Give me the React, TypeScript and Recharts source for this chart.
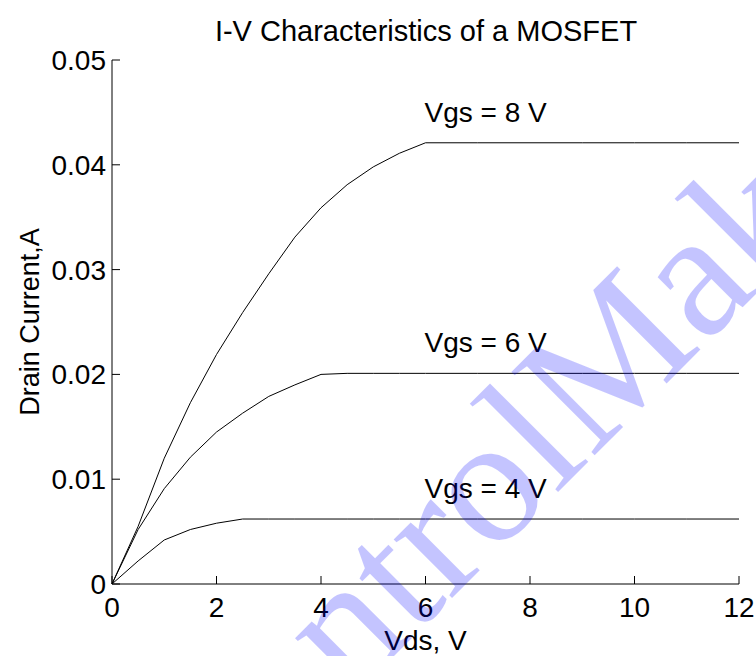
import { LineChart, Line, XAxis, YAxis, ReferenceDot } from 'recharts';

// drain-source voltage samples (V)
const vds = [0, 0.5, 1, 1.5, 2, 2.5, 3, 3.5, 4, 4.5, 5, 5.5, 6, 7, 8, 9, 10, 11, 12];

// drain current (A)
const idVgs8 = [0, 0.0055, 0.012, 0.0173, 0.0219, 0.0259, 0.0296, 0.0331, 0.0359, 0.0381, 0.0398, 0.0411, 0.0421, 0.0421, 0.0421, 0.0421, 0.0421, 0.0421, 0.0421];
const idVgs6 = [0, 0.0052, 0.0091, 0.0121, 0.0145, 0.0163, 0.0179, 0.019, 0.02, 0.0201, 0.0201, 0.0201, 0.0201, 0.0201, 0.0201, 0.0201, 0.0201, 0.0201, 0.0201];
const idVgs4 = [0, 0.0022, 0.0042, 0.0052, 0.0058, 0.0062, 0.0062, 0.0062, 0.0062, 0.0062, 0.0062, 0.0062, 0.0062, 0.0062, 0.0062, 0.0062, 0.0062, 0.0062, 0.0062];

const xTicks = [0, 2, 4, 6, 8, 10, 12];
const yTicks = [0, 0.01, 0.02, 0.03, 0.04, 0.05];

const data = vds.map((v, i) => ({ vds: v, vgs8: idVgs8[i], vgs6: idVgs6[i], vgs4: idVgs4[i] }));

const FONT = 'Arial, "Liberation Sans", Helvetica, sans-serif';
const noteStyle = { fontSize: 28, fill: '#000', fontFamily: FONT };
const TICK = 8;

// matlab style: tick marks point into the plot box
function BottomTick(props: any) {
  const { x, y, payload } = props;
  return (
    <g>
      <line x1={x} y1={y} x2={x} y2={y - TICK} stroke="#000" />
      <text x={x} y={y + 33} textAnchor="middle" fontSize={28} fontFamily={FONT} fill="#000">
        {payload.value}
      </text>
    </g>
  );
}

function LeftTick(props: any) {
  const { x, y, payload } = props;
  return (
    <g>
      <line x1={x} y1={y} x2={x + TICK} y2={y} stroke="#000" />
      <text x={x - 6} y={y + 10} textAnchor="end" fontSize={28} fontFamily={FONT} fill="#000">
        {payload.value}
      </text>
    </g>
  );
}

function TopTick(props: any) {
  const { x, y } = props;
  return <line x1={x} y1={y} x2={x} y2={y + TICK} stroke="#000" />;
}

function RightTick(props: any) {
  const { x, y } = props;
  return <line x1={x} y1={y} x2={x - TICK} y2={y} stroke="#000" />;
}

export default function App() {
  return (
    <div style={{ position: 'absolute', left: 0, top: 0, width: 756, height: 656, background: '#fff' }}>
      <LineChart width={756} height={656} data={data} margin={{ top: 60, right: 17, bottom: 0, left: 0 }}>
        <XAxis
          dataKey="vds"
          type="number"
          domain={[0, 12]}
          ticks={xTicks}
          height={72}
          tickSize={0}
          tickMargin={0}
          tickLine={false}
          stroke="#000"
          tick={<BottomTick />}
          label={{ value: 'Vds, V', position: 'insideBottom', offset: 6, style: { fontSize: 28, fill: '#000', fontFamily: FONT } }}
        />
        <XAxis xAxisId="top" dataKey="vds" orientation="top" type="number" domain={[0, 12]} ticks={xTicks} height={0} tickSize={0} tickMargin={0} tickLine={false} tick={<TopTick />} stroke="#000" />
        <YAxis
          type="number"
          domain={[0, 0.05]}
          ticks={yTicks}
          width={112}
          tickSize={0}
          tickMargin={0}
          tickLine={false}
          stroke="#000"
          tick={<LeftTick />}
          label={{ value: 'Drain Current,A', angle: -90, position: 'insideLeft', offset: 29, style: { textAnchor: 'middle', fontSize: 27, fill: '#000', fontFamily: FONT } }}
        />
        <YAxis yAxisId="right" orientation="right" type="number" domain={[0, 0.05]} ticks={yTicks} width={0} tickSize={0} tickMargin={0} tickLine={false} tick={<RightTick />} stroke="#000" />
        <Line type="linear" dataKey="vgs8" stroke="#000" strokeWidth={1} dot={false} isAnimationActive={false} />
        <Line type="linear" dataKey="vgs6" stroke="#000" strokeWidth={1} dot={false} isAnimationActive={false} />
        <Line type="linear" dataKey="vgs4" stroke="#000" strokeWidth={1} dot={false} isAnimationActive={false} />
        {/* invisible series so the box axes (top/right) get drawn */}
        <Line xAxisId="top" yAxisId="right" type="linear" dataKey="vgs8" stroke="none" dot={false} legendType="none" isAnimationActive={false} />
        <ReferenceDot x={7.15} y={0.045} r={0} label={{ value: 'Vgs = 8 V', position: 'center', style: noteStyle }} />
        <ReferenceDot x={7.15} y={0.0231} r={0} label={{ value: 'Vgs = 6 V', position: 'center', style: noteStyle }} />
        <ReferenceDot x={7.15} y={0.0092} r={0} label={{ value: 'Vgs = 4 V', position: 'center', style: noteStyle }} />
      </LineChart>
      <svg width={756} height={656} style={{ position: 'absolute', left: 0, top: 0, pointerEvents: 'none' }}>
        <text x={426} y={41} textAnchor="middle" fontSize={29} fontFamily={FONT} fill="#000">
          I-V Characteristics of a MOSFET
        </text>
        <text
          x={202}
          y={848}
          transform="rotate(-45 202 848)"
          fontSize={180}
          fontFamily='"Liberation Serif", "Times New Roman", serif'
          fill="#0000ff"
          fillOpacity={0.23}
        >
          ControlMaker
        </text>
      </svg>
    </div>
  );
}
